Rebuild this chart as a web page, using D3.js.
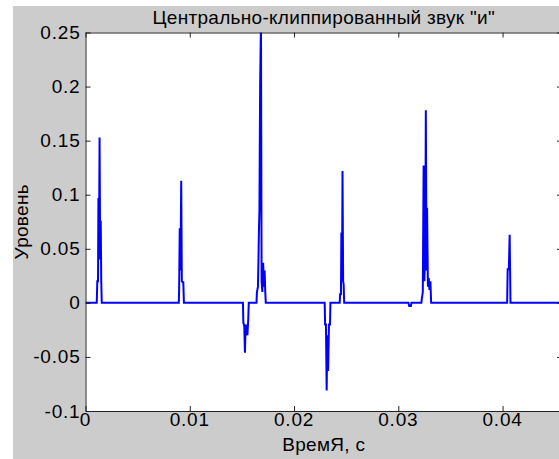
<!DOCTYPE html>
<html>
<head>
<meta charset="utf-8">
<script src="https://cdnjs.cloudflare.com/ajax/libs/d3/7.8.5/d3.min.js"></script>
<style>
    body{margin:0;background:#fff;}
    text{font-family:"Liberation Sans",Arial,sans-serif;fill:#000;}
</style>
</head>
<body>
<script>
// sample times (ms) and levels of the clipped signal, zeros between bursts
var timeMs=[0,
    1.08,1.13,1.20,1.24,1.29,1.35,1.41,1.46,1.51,1.56,
    8.95,8.98,9.04,9.11,9.18,9.24,9.31,9.38,9.44,
    15.10,15.14,15.23,15.29,15.36,15.44,15.53,15.61,15.66,
    16.40,16.44,16.54,16.59,16.63,16.68,16.75,16.83,16.89,16.96,17.04,17.11,17.18,17.24,17.29,
    22.94,22.98,23.06,23.13,23.19,23.27,23.35,23.45,23.49,
    24.38,24.42,24.50,24.54,24.60,24.65,24.71,24.76,24.81,
    30.97,31.05,31.21,31.26,
    32.21,32.26,32.35,32.43,32.50,32.59,32.64,32.71,32.76,32.84,32.92,32.99,33.08,33.15,
    40.44,40.49,40.60,40.68,40.76,
    46.0];
var level=[0,
    0,0.02,0.02,0.097,0.05,0.153,0.04,0.076,0.02,0,
    0,0.013,0.069,0.03,0.113,0.02,0.019,0.019,0,
    0,-0.018,-0.022,-0.046,-0.02,-0.025,-0.03,-0.015,0,
    0,0.01,0.015,0.04,0.065,0.085,0.203,0.26,0.02,0.01,0.037,0.015,0.03,0.01,0,
    0,-0.02,-0.02,-0.081,-0.03,-0.063,-0.02,-0.02,0,
    0,0.008,0.008,0.065,0.02,0.122,0.02,0.017,0,
    0,-0.003,-0.003,0,
    0,0.004,0.01,0.127,0.02,0.05,0.178,0.03,0.088,0.015,0.023,0.012,0.02,0,
    0,0.031,0.031,0.063,0,
    0];
var xTicks=[0,0.01,0.02,0.03,0.04];
var yTicks=[-0.1,-0.05,0,0.05,0.1,0.15,0.2,0.25];
var xTickLabels=["0","0.01","0.02","0.03","0.04"];
var yTickLabels=["-0.1","-0.05","0","0.05","0.1","0.15","0.2","0.25"];

var width=559,height=459;
var mLeft=85.5,mRight=562,mTop=32.5,mBottom=411;

var svg=d3.select("body").append("svg")
    .attr("width",width)
    .attr("height",height);

svg.append("rect")
    .attr("x",13).attr("y",6)
    .attr("width",width-13).attr("height",height-6)
    .attr("fill","#cccccc");

var x=d3.scaleLinear().domain([0,0.0457]).range([mLeft,mRight]);
var y=d3.scaleLinear().domain([-0.1,0.25]).range([mBottom,mTop]);

svg.append("rect")
    .attr("x",mLeft).attr("y",mTop)
    .attr("width",mRight-mLeft).attr("height",mBottom-mTop)
    .attr("fill","#fff");

svg.append("clipPath").attr("id","clip")
    .append("rect")
    .attr("x",mLeft).attr("y",mTop)
    .attr("width",mRight-mLeft).attr("height",mBottom-mTop);

var line=d3.line()
    .x(function(d,i){return x(timeMs[i]/1000);})
    .y(function(d){return y(d);});

svg.append("path")
    .datum(level)
    .attr("clip-path","url(#clip)")
    .attr("d",line)
    .attr("fill","none")
    .attr("stroke","#0000ff")
    .attr("stroke-width",2)
    .attr("stroke-linejoin","miter");

// box and inward ticks on all four sides
function axis(gen,tx,ty,vals){
    return svg.append("g")
        .attr("transform","translate("+tx+","+ty+")")
        .call(gen.tickValues(vals).tickSizeInner(-5).tickSizeOuter(0).tickFormat(""))
        .call(function(g){
            g.select(".domain").attr("stroke","#222");
            g.selectAll(".tick line").attr("stroke","#222");
        });
}
axis(d3.axisBottom(x),0,mBottom,xTicks);
axis(d3.axisTop(x),0,mTop,xTicks);
axis(d3.axisLeft(y),mLeft,0,yTicks);
axis(d3.axisRight(y),mRight,0,yTicks);

svg.selectAll(".xlab")
    .data(xTicks)
    .enter().append("text")
    .attr("class","xlab")
    .attr("x",function(d){return x(d);})
    .attr("y",mBottom+15)
    .attr("text-anchor","middle")
    .style("font-size","19px")
    .style("letter-spacing","0.8px")
    .text(function(d,i){return xTickLabels[i];});

svg.selectAll(".ylab")
    .data(yTicks)
    .enter().append("text")
    .attr("class","ylab")
    .attr("x",mLeft-5)
    .attr("y",function(d){return y(d)+6.5;})
    .attr("text-anchor","end")
    .style("font-size","19px")
    .style("letter-spacing","0.8px")
    .text(function(d,i){return yTickLabels[i];});

svg.append("text")
    .attr("x",(mLeft+mRight)/2)
    .attr("y",24)
    .attr("text-anchor","middle")
    .style("font-size","19px")
    .style("letter-spacing","0.3px")
    .text("Центрально-клиппированный звук \"и\"");

svg.append("text")
    .attr("x",(mLeft+mRight)/2)
    .attr("y",451)
    .attr("text-anchor","middle")
    .style("font-size","19px")
    .style("letter-spacing","0.3px")
    .text("ВремЯ, с");

svg.append("text")
    .attr("transform","translate(28,"+(mTop+mBottom)/2+") rotate(-90)")
    .attr("text-anchor","middle")
    .style("font-size","19px")
    .style("letter-spacing","0.3px")
    .text("Уровень");
</script>
</body>
</html>
